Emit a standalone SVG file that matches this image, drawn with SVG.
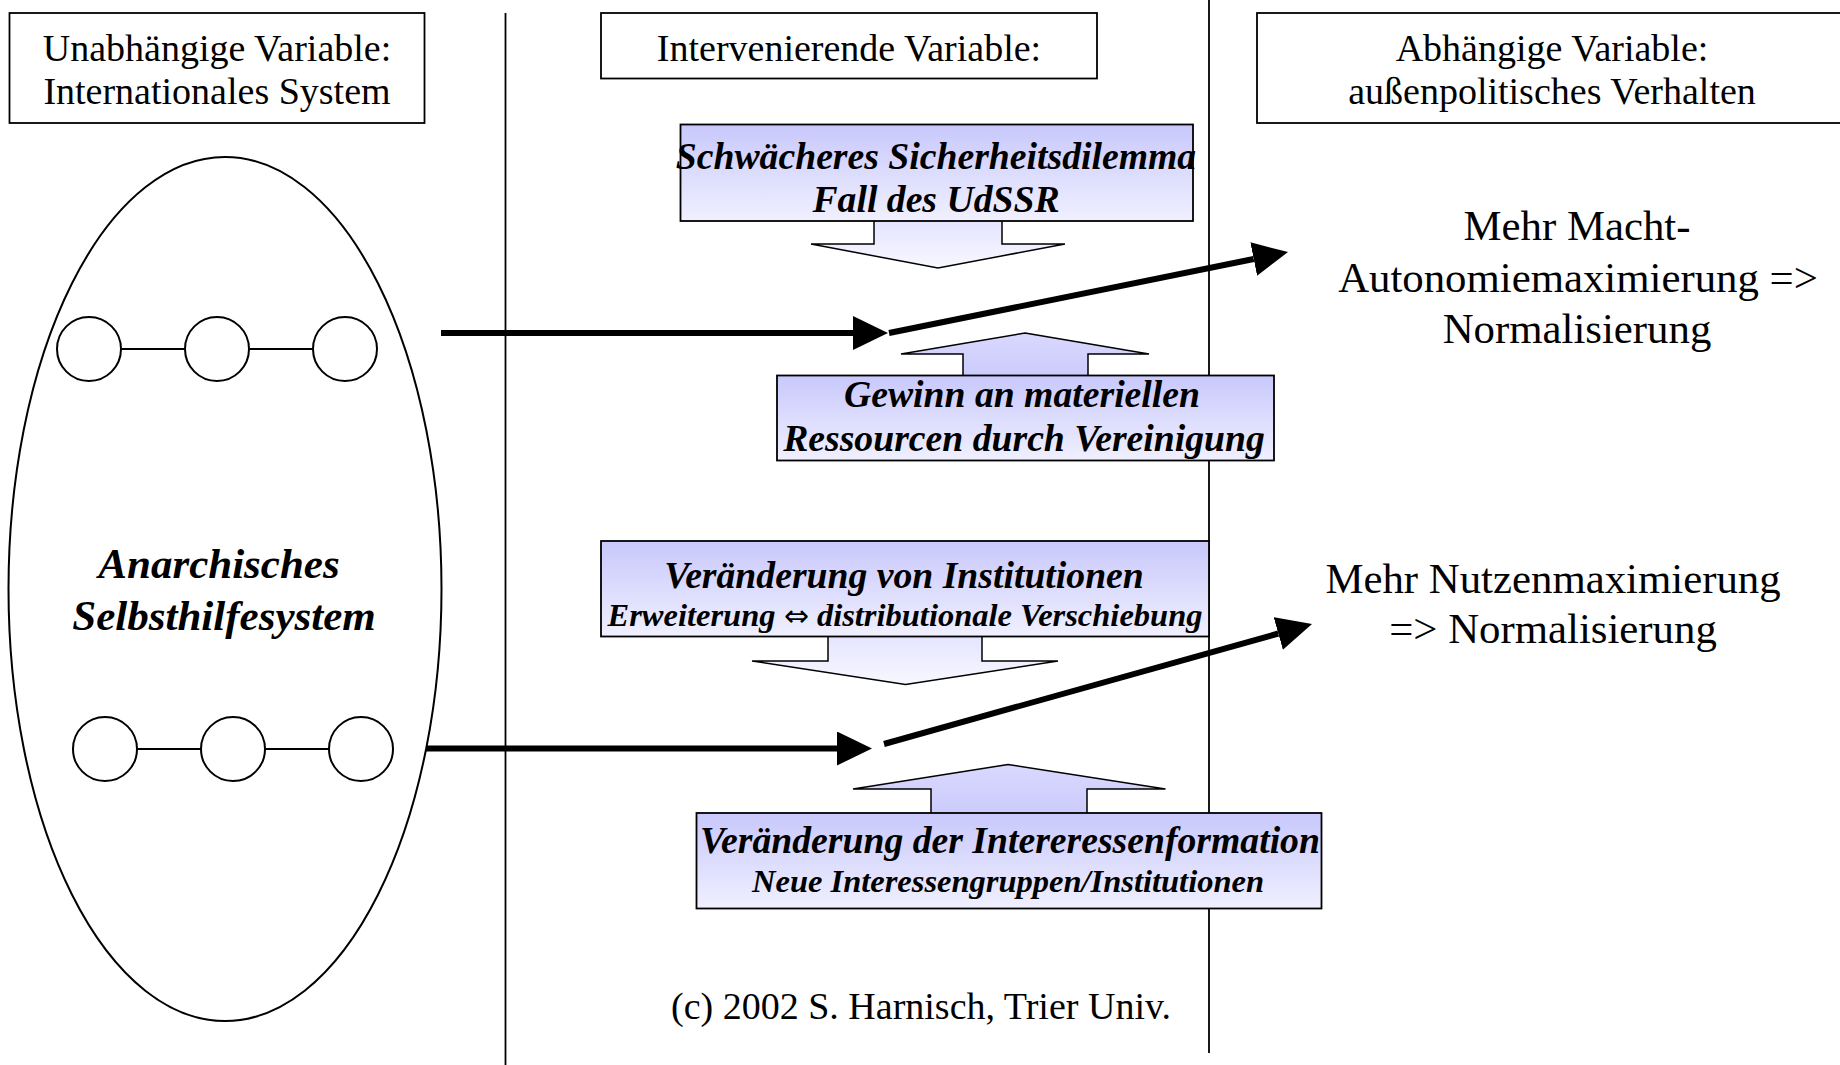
<svg xmlns="http://www.w3.org/2000/svg" width="1840" height="1065" viewBox="0 0 1840 1065">
<style>
  .hdr{fill:#fff;stroke:#000;stroke-width:1.8}
  .ht{font-family:"Liberation Serif",serif;font-size:38px;text-anchor:middle;fill:#000}
  .rt{font-family:"Liberation Serif",serif;font-size:42.8px;text-anchor:middle;fill:#000}
  .bt{font-family:"Liberation Serif",serif;font-weight:bold;font-style:italic;text-anchor:middle;fill:#000}
  .big{font-size:37.7px}
  .sm{font-size:32.5px}
  .bx{fill:url(#gBox);stroke:#000;stroke-width:1.8}
  .dn{fill:url(#gDown);stroke:#000;stroke-width:1.5}
  .up{fill:url(#gUp);stroke:#000;stroke-width:1.5}
  .sep{stroke:#000;stroke-width:1.8;fill:none}
  .circ{fill:#fff;stroke:#000;stroke-width:2}
  .lnk{stroke:#000;stroke-width:2}
  .con{stroke:#000;stroke-width:6;fill:none;marker-end:url(#ah)}
</style>
<defs>
  <linearGradient id="gBox" x1="0" y1="0" x2="0" y2="1">
    <stop offset="0" stop-color="#c8c8fc"/>
    <stop offset="1" stop-color="#f0f0ff"/>
  </linearGradient>
  <linearGradient id="gDown" x1="0" y1="0" x2="0" y2="1">
    <stop offset="0" stop-color="#e2e2ff"/>
    <stop offset="1" stop-color="#f8f8ff"/>
  </linearGradient>
  <linearGradient id="gUp" x1="0" y1="0" x2="0" y2="1">
    <stop offset="0" stop-color="#d8d8ff"/>
    <stop offset="1" stop-color="#cacafc"/>
  </linearGradient>
  <marker id="ah" markerUnits="userSpaceOnUse" markerWidth="36" markerHeight="36" refX="0" refY="17" orient="auto">
    <path d="M0,0 L35,17 L0,34 z" fill="#000"/>
  </marker>
</defs>

<!-- separators -->
<g id="separators">
  <line class="sep" x1="505.5" y1="13" x2="505.5" y2="1065"/>
  <line class="sep" x1="1209" y1="0" x2="1209" y2="1053"/>
</g>

<g id="hdr-independent">
  <rect class="hdr" x="9.5" y="13" width="415" height="110"/>
  <text class="ht" x="217" y="61">Unabhängige Variable:</text>
  <text class="ht" x="217" y="104">Internationales System</text>
</g>
<g id="hdr-intervening">
  <rect class="hdr" x="601" y="13" width="496" height="65.5"/>
  <text class="ht" x="849" y="61">Intervenierende Variable:</text>
</g>
<g id="hdr-dependent">
  <rect class="hdr" x="1257" y="13" width="600" height="110"/>
  <text class="ht" x="1552" y="61">Abhängige Variable:</text>
  <text class="ht" x="1552" y="104">außenpolitisches Verhalten</text>
</g>

<g id="anarchic-system">
  <ellipse cx="225" cy="589" rx="216.5" ry="432" fill="#fff" stroke="#000" stroke-width="2"/>
  <line class="lnk" x1="89" y1="349" x2="345" y2="349"/>
  <circle class="circ" cx="89" cy="349" r="32"/>
  <circle class="circ" cx="217" cy="349" r="32"/>
  <circle class="circ" cx="345" cy="349" r="32"/>
  <line class="lnk" x1="105" y1="749" x2="361" y2="749"/>
  <circle class="circ" cx="105" cy="749" r="32"/>
  <circle class="circ" cx="233" cy="749" r="32"/>
  <circle class="circ" cx="361" cy="749" r="32"/>
  <text class="bt" x="219" y="578" font-size="43">Anarchisches</text>
  <text class="bt" x="224" y="630" font-size="43">Selbsthilfesystem</text>
</g>

<g id="node-security">
  <polygon class="dn" points="874,215 1002,215 1002,244 1065,244 938,268 811,244 874,244"/>
  <rect class="bx" x="680.5" y="124.5" width="512.5" height="96.5"/>
  <text class="bt big" x="936" y="169">Schwächeres Sicherheitsdilemma</text>
  <text class="bt big" x="936" y="212">Fall des UdSSR</text>
</g>

<g id="node-resources">
  <polygon class="up" points="1025,333 1149,354 1088,354 1088,382 963,382 963,354 901,354"/>
  <rect class="bx" x="777" y="375.5" width="497" height="85"/>
  <text class="bt big" x="1022" y="407">Gewinn an materiellen</text>
  <text class="bt big" x="1024" y="451">Ressourcen durch Vereinigung</text>
</g>

<g id="node-institutions">
  <polygon class="dn" points="828,630 982,630 982,661 1058,661 905.5,684.5 752,661 828,661"/>
  <rect class="bx" x="601" y="541" width="608" height="95.5"/>
  <text class="bt big" x="904" y="588">Veränderung von Institutionen</text>
  <text class="bt sm" x="905" y="626">Erweiterung <tspan font-family="DejaVu Sans,sans-serif" font-weight="normal" font-style="normal" font-size="30">⇔</tspan> distributionale Verschiebung</text>
</g>

<g id="node-interests">
  <polygon class="up" points="1008,764.5 1165.5,789 1087,789 1087,820 931,820 931,789 853,789"/>
  <rect class="bx" x="696.5" y="813" width="625" height="95.5"/>
  <text class="bt big" x="1010" y="853">Veränderung der Intereressenformation</text>
  <text class="bt sm" x="1008" y="892">Neue Interessengruppen/Institutionen</text>
</g>

<g id="result-power">
  <text class="rt" x="1577" y="240">Mehr Macht-</text>
  <text class="rt" x="1578" y="292">Autonomiemaximierung =&gt;</text>
  <text class="rt" x="1577" y="343">Normalisierung</text>
</g>

<g id="result-utility">
  <text class="rt" x="1553" y="593">Mehr Nutzenmaximierung</text>
  <text class="rt" x="1553" y="643">=&gt; Normalisierung</text>
</g>

<g id="connectors">
  <line class="con" x1="441" y1="333" x2="853" y2="333"/>
  <line class="con" x1="889" y1="333" x2="1253.7" y2="259"/>
  <line class="con" x1="426" y1="748.5" x2="837" y2="748.5"/>
  <line class="con" x1="884" y1="744" x2="1278.3" y2="633.5"/>
</g>

<g id="copyright">
  <text class="ht" x="921" y="1019" font-size="38.5">(c) 2002 S. Harnisch, Trier Univ.</text>
</g>
</svg>
